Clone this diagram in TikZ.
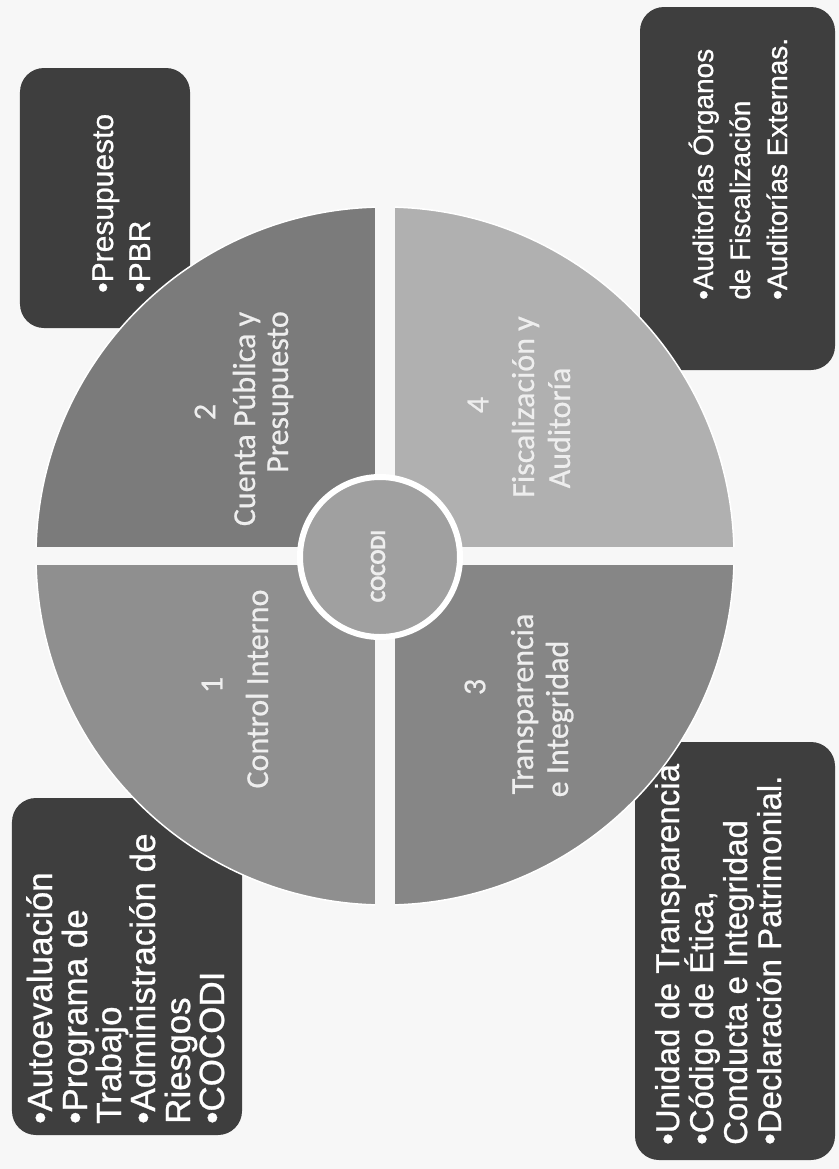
\documentclass[tikz,border=0pt]{standalone}
\usepackage{fontspec}
\setmainfont{Liberation Sans}
\newfontfamily\boxfont[FakeBold=0.8]{Liberation Sans}
\newfontfamily\calfont[FakeBold=0.6]{Carlito}
\definecolor{paper}{HTML}{F7F7F7}
\definecolor{boxgray}{HTML}{3E3E3E}
\definecolor{qone}{HTML}{8F8F8F}
\definecolor{qtwo}{HTML}{7B7B7B}
\definecolor{qthree}{HTML}{868686}
\definecolor{qfour}{HTML}{B0B0B0}
\definecolor{qcenter}{HTML}{A0A0A0}
\definecolor{qtext}{HTML}{EEEEEE}
\begin{document}
\begin{tikzpicture}[x=1bp,y=-1bp,
  darkbox/.style={fill=boxgray, rounded corners=24bp, inner sep=0pt},
  btxt/.style={rotate=90, anchor=base west, inner sep=0pt, text=white,
    font=\boxfont\fontsize{#1bp}{#1bp}\selectfont},
  qnum/.style={rotate=90, anchor=center, inner sep=0pt, text=qtext,
    font=\calfont\fontsize{32bp}{38bp}\selectfont},
  qtitle/.style={rotate=90, anchor=base, inner sep=0pt, text=qtext,
    font=\calfont\fontsize{32bp}{38bp}\selectfont}]
\useasboundingbox (0,0) rectangle (839,1169);
\fill[paper] (0,0) rectangle (839,1169);

% dark boxes
\node[darkbox, minimum width=170bp, minimum height=260bp] (boxA) at (105,198) {};
\node[darkbox, minimum width=195bp, minimum height=363bp] (boxB) at (737.5,188.5) {};
\node[darkbox, minimum width=230bp, minimum height=337bp] (boxC) at (127,966.5) {};
\node[darkbox, minimum width=200bp, minimum height=418bp] (boxD) at (735,951) {};

% circle with quadrants
\coordinate (cc) at (385,556);
\begin{scope}
  \clip (cc) circle (349bp);
  \fill[qtwo]   (36,207) rectangle (385,556);
  \fill[qfour]  (385,207) rectangle (734,556);
  \fill[qone]   (36,556) rectangle (385,905);
  \fill[qthree] (385,556) rectangle (734,905);
\end{scope}
\draw[white, line width=1.5bp] (cc) circle (349bp);
\fill[paper] (375,200) rectangle (395,912);
\fill[paper] (28,547) rectangle (742,565);
\node[circle, fill=qcenter, draw=white, line width=6bp, minimum size=160bp, inner sep=0pt] (center) at (380,557) {};
\node[rotate=90, text=qtext, inner sep=0pt, font=\calfont\bfseries\fontsize{22bp}{26bp}\selectfont] (cocodi) at (378,566) {COCODI};

% quadrant labels
\node[qnum] (n1) at (212,685) {1};
\node[qtitle] (t1) at (268,689) {Control Interno};
\node[qnum] (n2) at (205,412) {2};
\node[qtitle] (t2a) at (255,419) {Cuenta Pública y};
\node[qtitle] (t2b) at (288,392) {Presupuesto};
\node[qnum] (n3) at (475,687) {3};
\node[qtitle] (t3a) at (533,704) {Transparencia};
\node[qtitle] (t3b) at (568,719) {e Integridad};
\node[qnum] (n4) at (478,405) {4};
\node[qtitle] (t4a) at (534,407) {Fiscalización y};
\node[qtitle] (t4b) at (570,428) {Auditoría};

% box texts
\node[btxt=30] (a1) at (113,293) {•Presupuesto};
\node[btxt=30] (a2) at (150,293) {•PBR};

\node[btxt=28] (b1) at (713,300) {•Auditorías Órganos};
\node[btxt=28] (b2) at (750,300) {de Fiscalización};
\node[btxt=28] (b3) at (787,300) {•Auditorías Externas.};

\node[btxt=35] (c1) at (52,1124) {•Autoevaluación};
\node[btxt=35] (c2) at (87,1124) {•Programa de};
\node[btxt=35] (c3) at (121,1124) {Trabajo};
\node[btxt=35] (c4) at (155,1124) {•Administración de};
\node[btxt=35] (c5) at (190,1124) {Riesgos};
\node[btxt=35] (c6) at (224,1124) {•COCODI};

\node[btxt=33] (d1) at (679,1145) {•Unidad de Transparencia};
\node[btxt=33] (d2) at (713,1145) {•Código de Ética,};
\node[btxt=33] (d3) at (747,1145) {Conducta e Integridad};
\node[btxt=33] (d4) at (781,1145) {•Declaración Patrimonial.};
\end{tikzpicture}
\end{document}
